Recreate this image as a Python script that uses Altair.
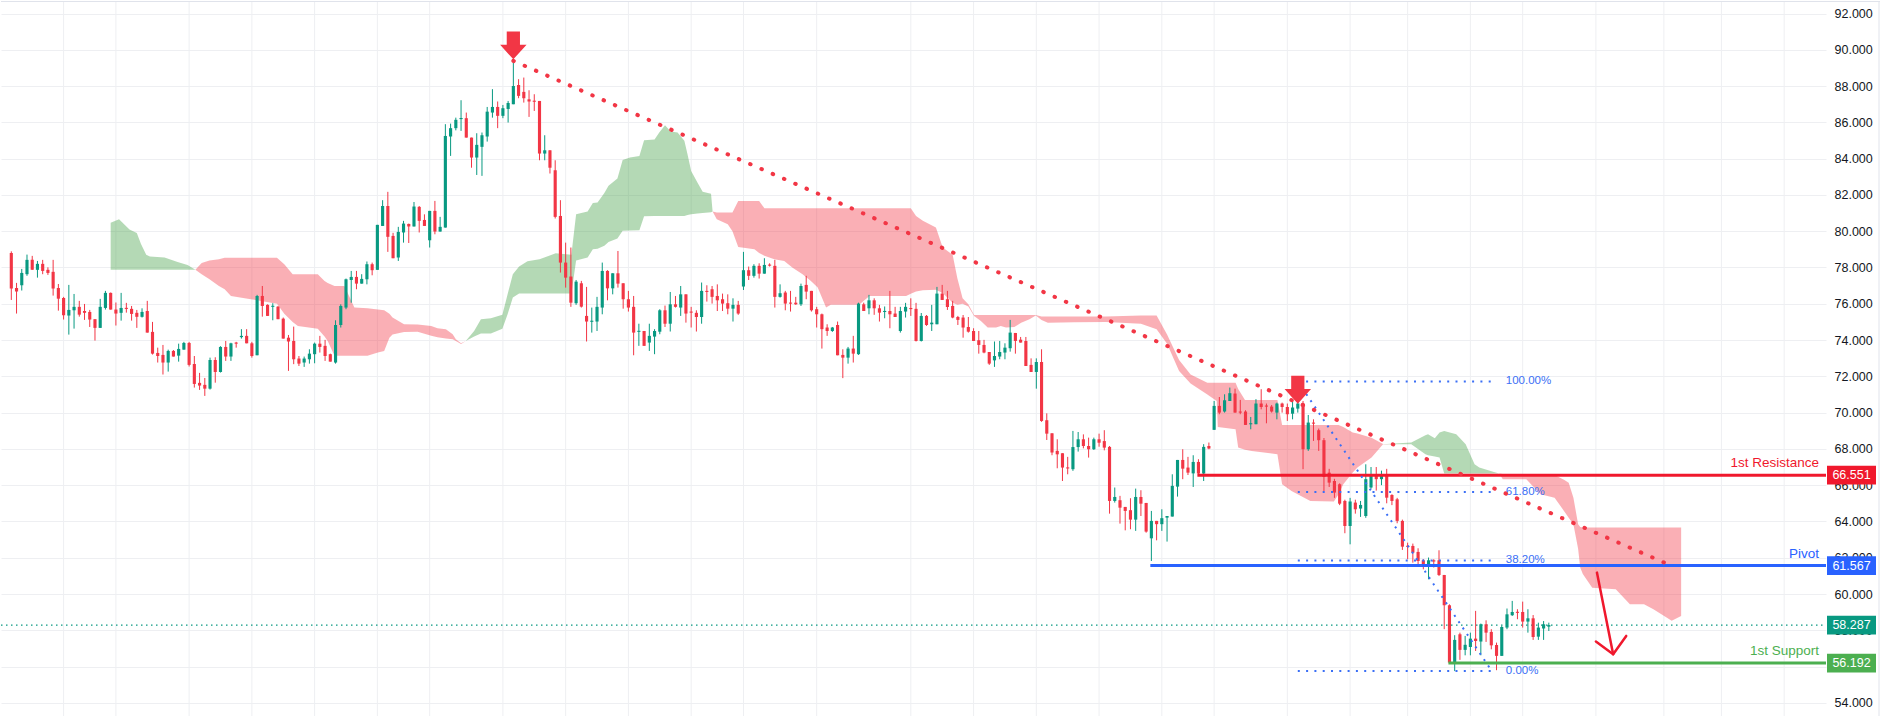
import altair as alt
import numpy as np
import pandas as pd

# ---------------- candles ----------------
opens = [
    78.80, 76.87, 77.02, 77.63, 78.42, 77.87, 78.20, 77.87, 77.76, 76.87,
    76.32, 75.35, 75.64, 75.83, 75.60, 75.55, 75.15, 74.67, 75.77, 76.60,
    75.68, 75.50, 75.77, 75.72, 75.50, 75.28, 75.60, 74.45, 73.29, 73.18,
    72.76, 73.40, 73.14, 73.47, 73.84, 72.68, 71.64, 71.53, 71.32, 72.90,
    72.24, 73.62, 73.09, 73.86, 74.16, 74.23, 73.82, 73.16, 76.43, 75.94,
    75.84, 75.84, 75.18, 74.13, 73.95, 72.98, 72.76, 72.94, 73.22, 73.80,
    73.68, 73.22, 72.76, 74.83, 75.79, 77.31, 77.48, 77.11, 77.35, 78.18,
    77.87, 80.29, 81.39, 79.74, 78.55, 79.93, 80.40, 80.26, 81.34, 80.62,
    79.50, 81.12, 79.98, 80.20, 85.22, 85.68, 86.19, 86.23, 85.16, 84.06,
    84.65, 85.22, 86.54, 86.85, 86.36, 86.74, 87.00, 88.06, 87.68, 87.27,
    87.18, 87.18, 84.28, 84.46, 83.36, 80.84, 78.27, 77.50, 76.03, 77.13,
    75.33, 75.02, 75.02, 75.79, 77.81, 76.85, 77.68, 77.13, 76.25, 75.83,
    74.46, 74.50, 73.86, 74.19, 74.46, 75.64, 74.90, 75.97, 75.79, 76.52,
    75.57, 75.50, 75.27, 76.71, 76.80, 76.43, 76.25, 76.03, 75.73, 75.94,
    76.95, 77.85, 77.54, 78.09, 77.66, 78.14, 78.09, 76.38, 76.62, 76.06,
    76.06, 75.97, 77.04, 76.71, 75.70, 75.42, 74.69, 74.50, 74.83, 73.18,
    73.03, 73.53, 73.22, 75.97, 75.75, 76.19, 75.75, 75.55, 75.60, 75.46,
    74.50, 75.57, 75.75, 75.72, 73.95, 75.33, 74.87, 74.87, 76.56, 76.25,
    75.88, 75.27, 75.24, 74.72, 74.50, 73.99, 73.73, 73.34, 72.88, 73.09,
    73.31, 73.55, 74.39, 74.02, 73.95, 72.63, 72.24, 72.79, 69.58, 68.86,
    67.89, 67.76, 66.97, 66.88, 68.10, 68.53, 68.16, 67.98, 68.53, 68.43,
    68.11, 65.13, 65.17, 64.80, 64.62, 64.10, 65.35, 65.02, 63.07, 64.03,
    63.85, 64.21, 64.27, 65.92, 67.39, 66.97, 66.65, 67.28, 66.64, 68.16,
    69.05, 70.37, 70.06, 70.64, 71.05, 70.06, 70.06, 69.36, 69.36, 70.50,
    70.39, 70.33, 70.00, 70.50, 70.31, 69.94, 70.22, 70.50, 67.98, 69.45,
    69.03, 68.48, 66.69, 66.23, 66.05, 65.13, 63.75, 65.04, 64.71, 64.30,
    65.87, 66.60, 66.33, 66.51, 65.46, 65.22, 64.03, 62.65, 62.65, 62.32,
    61.86, 61.60, 61.86, 61.86, 61.05, 59.38, 56.22, 57.78, 56.92, 57.08,
    57.54, 57.38, 58.33, 57.91, 57.19, 56.59, 58.15, 58.83, 59.01, 59.01,
    58.48, 58.66, 57.65, 58.10, 58.20,
]
highs = [
    78.89, 77.15, 77.92, 78.71, 78.64, 78.36, 78.42, 78.01, 78.42, 77.09,
    76.38, 77.04, 76.54, 76.16, 75.99, 75.66, 75.15, 76.27, 76.71, 76.62,
    76.07, 76.60, 76.05, 75.88, 75.66, 75.75, 76.16, 75.00, 73.58, 73.73,
    73.47, 73.45, 73.80, 73.90, 73.90, 73.12, 72.19, 71.91, 73.03, 73.05,
    73.66, 73.95, 73.85, 73.90, 74.60, 74.60, 73.90, 76.49, 76.98, 75.97,
    76.03, 75.88, 75.24, 74.28, 74.74, 73.12, 73.09, 73.49, 73.86, 74.23,
    74.01, 73.25, 75.09, 75.97, 77.39, 77.81, 77.81, 77.63, 78.33, 78.27,
    80.35, 81.71, 82.17, 79.91, 80.24, 80.57, 80.42, 81.61, 81.39, 80.93,
    81.12, 81.67, 80.79, 85.90, 85.93, 86.26, 87.22, 86.54, 85.16, 85.40,
    85.44, 86.85, 87.83, 87.15, 86.96, 87.18, 89.39, 88.38, 88.47, 87.77,
    87.55, 87.18, 85.29, 84.46, 83.91, 81.71, 79.37, 79.10, 77.31, 77.26,
    76.93, 75.79, 76.38, 78.27, 77.85, 77.68, 78.91, 77.13, 76.71, 76.43,
    74.90, 74.50, 74.90, 74.60, 75.70, 75.90, 76.65, 76.43, 76.98, 76.52,
    75.83, 75.64, 77.17, 77.02, 76.98, 77.07, 76.56, 76.52, 76.30, 76.16,
    78.86, 78.05, 78.18, 78.23, 78.51, 78.23, 78.42, 77.07, 76.71, 76.71,
    76.38, 77.11, 77.54, 76.71, 75.83, 75.46, 74.87, 74.72, 75.02, 73.49,
    73.62, 74.23, 76.06, 76.06, 76.49, 76.30, 75.94, 75.85, 76.71, 75.83,
    75.83, 76.05, 76.30, 76.05, 75.49, 75.38, 75.94, 76.93, 77.04, 76.71,
    76.16, 75.33, 75.38, 75.27, 74.65, 74.50, 74.01, 73.34, 73.92, 73.95,
    73.82, 75.11, 74.39, 74.17, 74.17, 72.99, 72.99, 73.49, 69.96, 68.86,
    68.53, 67.76, 67.56, 68.99, 68.93, 68.80, 68.62, 68.62, 68.84, 69.03,
    68.16, 65.87, 65.41, 64.80, 65.28, 65.81, 65.72, 65.02, 64.58, 64.03,
    64.67, 64.30, 66.60, 67.39, 67.98, 67.56, 67.65, 67.43, 68.26, 68.35,
    70.64, 70.86, 71.01, 71.38, 71.32, 70.70, 70.13, 69.76, 70.74, 71.29,
    70.50, 70.42, 70.55, 70.55, 70.50, 70.64, 71.72, 70.64, 69.87, 69.63,
    69.12, 68.60, 66.90, 66.35, 66.10, 65.20, 65.30, 65.20, 65.13, 67.15,
    67.00, 67.00, 66.80, 66.90, 65.50, 65.30, 64.10, 62.83, 62.78, 62.52,
    61.92, 62.01, 61.92, 62.41, 61.05, 59.43, 57.73, 57.87, 57.69, 57.87,
    59.07, 58.37, 58.55, 58.06, 57.32, 58.24, 59.20, 59.62, 59.16, 59.58,
    59.16, 58.84, 58.42, 58.51, 58.42,
]
lows = [
    76.21, 75.46, 76.73, 77.54, 77.87, 77.44, 77.63, 77.59, 76.45, 75.62,
    75.13, 74.30, 74.63, 75.29, 75.11, 74.72, 73.97, 74.67, 75.68, 75.68,
    74.80, 75.07, 75.51, 75.07, 74.67, 75.24, 74.41, 73.20, 72.76, 72.10,
    72.26, 73.09, 72.81, 73.47, 72.54, 71.38, 71.25, 70.92, 71.27, 71.65,
    72.21, 72.85, 72.85, 73.58, 74.08, 73.82, 73.03, 73.16, 75.29, 75.33,
    75.09, 75.15, 74.08, 72.30, 72.67, 72.57, 72.52, 72.70, 72.72, 73.31,
    72.85, 72.81, 72.70, 74.69, 75.70, 76.06, 76.80, 77.11, 77.07, 77.57,
    77.87, 80.29, 78.86, 78.51, 78.36, 79.37, 79.35, 80.26, 79.93, 80.29,
    79.10, 79.83, 79.98, 80.20, 84.15, 85.56, 85.53, 85.16, 83.50, 83.10,
    83.05, 84.94, 86.26, 85.68, 86.23, 85.99, 87.00, 87.33, 87.09, 86.30,
    86.63, 83.91, 83.91, 83.18, 80.70, 77.72, 76.89, 75.83, 75.94, 75.79,
    73.92, 74.41, 74.50, 75.42, 76.19, 76.52, 76.89, 75.73, 75.57, 73.16,
    73.68, 73.68, 73.40, 73.22, 74.32, 74.72, 74.47, 75.79, 75.33, 74.96,
    74.69, 74.47, 74.90, 76.12, 76.01, 75.60, 75.60, 75.42, 75.02, 75.39,
    76.76, 77.31, 77.44, 77.39, 77.66, 78.05, 75.79, 76.34, 75.64, 75.57,
    75.94, 75.88, 76.25, 75.57, 74.69, 73.53, 74.23, 74.45, 73.16, 71.90,
    72.70, 72.76, 73.18, 75.60, 75.42, 75.39, 75.02, 75.20, 74.65, 75.27,
    74.41, 75.24, 75.33, 73.92, 73.92, 74.78, 74.50, 74.87, 76.21, 75.66,
    75.20, 74.83, 74.13, 74.41, 73.95, 73.25, 73.27, 72.63, 72.52, 72.94,
    72.94, 73.36, 73.25, 73.86, 72.57, 72.24, 71.32, 69.49, 68.49, 67.65,
    66.93, 66.23, 66.60, 66.79, 67.85, 68.03, 67.52, 67.94, 68.12, 67.92,
    64.43, 65.04, 63.88, 63.51, 63.57, 63.48, 64.30, 63.38, 61.82, 62.96,
    63.48, 62.89, 64.27, 65.37, 66.33, 66.56, 65.90, 66.51, 66.23, 67.98,
    69.05, 69.91, 70.00, 70.64, 70.00, 69.91, 69.32, 69.08, 69.36, 70.18,
    69.41, 70.00, 69.63, 70.00, 69.54, 69.63, 70.00, 66.88, 67.89, 68.44,
    67.89, 65.68, 65.90, 65.30, 64.90, 63.35, 62.74, 64.43, 64.25, 64.20,
    65.80, 65.70, 66.00, 65.00, 64.90, 63.90, 62.43, 61.92, 61.73, 61.64,
    61.36, 60.81, 61.46, 60.99, 58.06, 56.22, 55.75, 56.37, 56.62, 56.62,
    56.86, 56.62, 57.36, 56.95, 55.80, 56.59, 58.06, 58.79, 58.61, 58.15,
    57.87, 57.47, 57.47, 57.47, 57.96,
]
closes = [
    76.84, 76.67, 77.70, 78.42, 77.87, 78.20, 77.81, 77.70, 76.84, 76.28,
    75.37, 75.66, 75.83, 75.40, 75.50, 75.13, 74.67, 75.83, 76.60, 75.68,
    75.46, 75.77, 75.72, 75.44, 75.28, 75.55, 74.41, 73.25, 73.12, 72.76,
    73.40, 73.09, 73.51, 73.84, 72.63, 71.58, 71.49, 71.32, 72.90, 72.24,
    73.62, 73.09, 73.82, 73.80, 74.23, 73.82, 73.12, 76.43, 75.88, 75.33,
    75.88, 75.15, 74.08, 73.92, 72.94, 72.70, 72.98, 73.25, 73.80, 73.62,
    73.12, 72.81, 74.83, 75.88, 77.35, 77.48, 77.11, 77.37, 78.18, 77.85,
    80.35, 81.39, 79.69, 78.51, 79.96, 80.42, 80.26, 81.36, 80.57, 80.29,
    81.12, 79.98, 80.24, 85.25, 85.68, 86.14, 86.23, 85.16, 84.06, 84.76,
    85.29, 86.59, 86.85, 86.36, 86.78, 87.07, 88.01, 87.46, 87.33, 87.15,
    87.15, 84.28, 84.46, 83.50, 80.79, 78.27, 77.44, 76.06, 77.22, 75.84,
    75.02, 75.05, 75.83, 77.81, 76.85, 77.68, 77.11, 76.25, 75.79, 74.41,
    74.50, 73.68, 74.23, 74.50, 75.64, 74.90, 75.97, 75.83, 76.52, 75.46,
    75.51, 75.27, 76.71, 76.65, 76.38, 76.19, 76.01, 75.73, 75.94, 75.46,
    77.85, 77.54, 78.09, 77.66, 78.14, 78.12, 76.38, 76.58, 76.01, 76.01,
    75.97, 76.98, 76.67, 75.64, 75.42, 74.60, 74.50, 74.69, 73.16, 73.03,
    73.53, 73.25, 76.01, 75.60, 76.19, 75.75, 75.51, 75.60, 75.42, 75.27,
    75.60, 75.83, 75.72, 73.95, 75.33, 74.83, 74.96, 76.56, 76.21, 75.82,
    75.24, 75.11, 74.69, 74.46, 73.95, 73.73, 73.31, 72.70, 73.12, 73.34,
    73.58, 74.41, 73.95, 73.86, 72.57, 72.24, 72.79, 69.54, 68.84, 67.80,
    67.70, 66.97, 66.93, 68.10, 68.53, 68.16, 67.98, 68.53, 68.34, 68.07,
    65.13, 65.35, 64.76, 64.58, 64.10, 65.35, 64.98, 63.44, 64.03, 63.85,
    64.18, 64.30, 65.96, 67.39, 66.91, 66.69, 67.28, 66.64, 68.11, 68.02,
    70.37, 70.00, 70.68, 71.07, 70.00, 70.00, 69.32, 69.41, 70.50, 70.31,
    70.33, 70.06, 70.50, 70.31, 69.91, 70.28, 70.50, 67.98, 69.45, 69.39,
    68.48, 66.45, 66.14, 65.59, 64.98, 63.75, 65.10, 64.67, 64.91, 66.33,
    66.51, 66.33, 66.51, 65.31, 65.13, 64.03, 62.61, 62.61, 62.28, 61.82,
    61.55, 61.86, 61.79, 61.05, 59.38, 56.22, 57.47, 56.92, 57.20, 57.54,
    57.41, 58.33, 57.87, 57.17, 56.59, 58.18, 58.88, 59.01, 58.97, 58.48,
    58.66, 57.63, 58.15, 58.33, 58.287,
]

# ---------------- Ichimoku cloud vertices (bar index, span A, span B) ----------------
cloud_x = [
    19.0, 20.6, 22.6, 24.0, 24.8, 25.8, 26.5, 29.3, 31.8, 33.7, 35.2,
    36.4, 37.9, 39.7, 40.8, 42.0, 45.8, 49.7, 50.8, 52.2, 53.8, 54.8, 58.6, 59.9, 60.5, 61.8,
    63.7, 65.6, 68.1, 70.1, 71.3, 72.3, 72.9, 75.1, 77.7, 80.3, 81.5, 83.1, 84.4, 85.0, 86.0, 86.9,
    88.5, 89.8, 91.7, 93.9, 94.9, 95.9, 97.1, 98.7, 101.0, 104.1, 107.1, 108.0, 110.2, 111.2,
    112.1, 113.4, 114.2, 115.9, 116.9, 118.3, 120.1, 121.0, 123.0, 123.9, 125.0, 126.1, 127.4,
    128.7, 129.3, 130.0, 131.2, 132.2, 133.8, 134.1,
    134.9, 137.0, 137.9, 139.0, 142.1, 143.0, 144.0, 145.9, 147.8, 149.4,
    151.3, 152.9, 154.2, 155.8, 156.7, 162.1, 164.1, 171.1, 172.0, 173.0,
    174.3, 176.8, 178.1, 180.0, 180.9, 181.9, 183.0, 184.1, 185.4, 186.7,
    188.3, 189.2, 190.2, 191.8, 193.1, 194.7, 195.9, 197.0, 198.2, 203.3,
    209.3, 216.0, 219.0, 221.0, 223.3, 225.5, 228.7, 230.5, 230.7, 234.1,
    234.6, 235.9, 237.2, 242.1, 243.0, 244.8, 248.4, 252.9, 253.8, 254.7,
    256.5, 257.4, 260.1, 262.3,
    264.5, 267.7, 270.4, 270.9, 272.2, 273.1, 274.0, 276.3, 278.1, 279.8, 280.7, 283.5, 284.5,
    285.2, 289.7, 292.4, 295.1, 296.9, 297.8, 298.7, 299.6, 300.0, 300.5, 302.3, 306.8,
    309.5, 312.2, 314.0, 317.5, 319.3,
]
span_a = [
    80.47, 80.66, 80.10, 79.90, 79.30, 78.70, 78.60, 78.55, 78.30, 78.14, 77.87,
    77.63, 77.35, 76.98, 76.80, 76.43, 76.25, 76.06, 76.00, 75.45, 75.00, 74.78, 74.62, 74.20, 73.95, 73.13,
    73.13, 73.13, 73.13, 73.31, 73.40, 74.13, 74.30, 74.45, 74.46, 74.23, 74.15, 74.08, 74.04, 73.95, 73.78, 73.95,
    74.50, 75.15, 75.20, 75.39, 76.52, 77.63, 78.05, 78.35, 78.45, 78.78, 78.70, 80.93, 81.08, 81.56,
    81.58, 82.10, 82.50, 82.90, 83.92, 84.06, 84.15, 85.02, 85.05, 85.44, 85.84, 85.49, 85.44,
    84.98, 84.24, 83.32, 82.68, 82.17, 82.07, 81.08,
    80.66, 80.38, 80.00, 79.13, 79.00, 78.80, 78.65, 78.45, 78.36, 77.99,
    77.63, 77.26, 76.89, 75.79, 75.94, 75.94, 76.43, 76.43, 76.55, 76.68,
    76.74, 76.77, 76.60, 76.06, 75.95, 76.00, 75.85, 75.33, 75.05, 74.69,
    74.69, 74.78, 74.69, 74.72, 74.96, 75.14, 75.35, 75.10, 74.96, 74.98,
    74.99, 74.90, 74.60, 73.80, 72.30, 71.60, 71.00, 70.64, 69.20, 69.08,
    68.07, 67.95, 67.89, 67.70, 66.05, 65.68, 65.13, 65.10, 65.50, 66.05,
    66.70, 66.97, 67.52, 68.26,
    68.30, 68.35, 68.75, 68.81, 68.59, 68.90, 68.99, 68.81, 68.26, 67.15, 66.97, 66.72, 66.64,
    66.33, 66.33, 65.50, 65.31, 64.58, 64.20, 63.84, 62.50, 61.46, 61.10, 60.35, 60.26,
    59.44, 59.44, 59.16, 58.52, 58.79,
]
span_b = [
    77.87, 77.87, 77.87, 77.87, 77.87, 77.87, 77.87, 77.87, 77.87, 77.87, 77.87,
    78.25, 78.38, 78.45, 78.53, 78.53, 78.53, 78.53, 78.53, 78.18, 77.63, 77.63, 77.63, 77.26, 77.15, 76.98,
    76.98, 75.79, 75.75, 75.68, 75.64, 75.45, 75.24, 74.87, 74.85, 74.78, 74.65, 74.60, 74.32, 74.05, 73.82, 73.95,
    74.20, 74.36, 74.36, 74.62, 75.42, 76.34, 76.56, 76.56, 76.56, 76.56, 76.56, 78.38, 78.55, 79.00,
    79.03, 79.20, 79.40, 79.60, 80.02, 80.04, 80.05, 80.82, 80.84, 80.84, 80.84, 80.84, 80.84,
    80.84, 80.90, 80.93, 80.98, 81.00, 81.05, 81.08,
    81.03, 81.03, 81.03, 81.67, 81.67, 81.67, 81.27, 81.27, 81.27, 81.27,
    81.27, 81.27, 81.27, 81.27, 81.27, 81.27, 81.27, 81.27, 81.27, 80.84,
    80.57, 80.20, 79.10, 78.70, 77.40, 76.30, 75.97, 75.38, 75.38, 75.38,
    75.38, 75.38, 75.38, 75.38, 75.38, 75.38, 75.38, 75.30, 75.30, 75.30,
    75.30, 75.35, 75.35, 74.30, 72.90, 72.10, 71.65, 71.65, 71.65, 71.65,
    71.30, 70.70, 70.70, 70.70, 69.32, 69.32, 69.32, 69.32, 69.32, 69.20,
    68.90, 68.85, 68.62, 68.27,
    68.26, 68.26, 67.70, 67.65, 67.58, 67.52, 66.64, 66.64, 66.64, 66.64, 66.64, 66.64, 66.64,
    66.62, 66.60, 66.58, 66.56, 66.30, 66.14, 65.31, 63.84, 63.70, 63.66, 63.66, 63.66,
    63.66, 63.66, 63.66, 63.66, 63.66,
]

# ---------------- annotations ----------------
grid_x = [10, 20, 34, 46, 58, 70, 80, 94, 106, 118, 130, 140, 154, 172, 184, 196, 208,
          220, 230, 244, 256, 267, 279, 289, 303, 316, 327, 339]
y_ticks = list(range(54, 93, 2))

level_names = ["1st Resistance", "Pivot", "1st Support"]
level_values = [66.551, 61.567, 56.192]
level_start = [226.8, 217.8, 274.8]
last_price = 58.287

fib_ratios = [1.0, 0.618, 0.382, 0.0]
fib_labels = ["100.00%", "61.80%", "38.20%", "0.00%"]
fib_start, fib_end = 246, 283.1
fib_high, fib_low = 71.72, 55.75

trend_x = [96, 316]
trend_y = [89.39, 61.74]

marker_x = [96, 246]
marker_y = [90.24, 71.26]

big_arrow_x = [303.2, 306.3, 303.0, 306.3, 308.8]
big_arrow_y = [61.18, 56.68, 57.38, 56.68, 57.69]
big_arrow_seg = [0, 0, 1, 1, 1]

# ---------------- styles ----------------
W, H = 1825, 716
X_DOMAIN = [-1.97, 347.0]
Y_DOMAIN = [53.22, 92.69]
UP = "#089981"
DOWN = "#f23645"
RES = "#f0182d"
PIV = "#2962ff"
SUP = "#4caf50"
TEAL = "#089981"
FIB = "#3b6ff5"
GRID = "#eeeff2"
BORDER = "#e0e3eb"
FONT = "Liberation Sans"
ARROW = "M-0.5,-1.05L0.5,-1.05L0.5,-0.05L1,-0.05L0,1.05L-1,-0.05L-0.5,-0.05Z"

XS = alt.Scale(domain=X_DOMAIN, nice=False, zero=False)
YS = alt.Scale(domain=Y_DOMAIN, nice=False, zero=False)
Y_AXIS = alt.Axis(orient="right", values=y_ticks, format=".3f", grid=True,
                  gridColor=GRID, gridWidth=1, domain=False, ticks=False,
                  labelPadding=8, labelFont=FONT, labelFontSize=12.5,
                  labelColor="#131722", title=None)


def X(f):
    return alt.X(f, type="quantitative", scale=XS, axis=None)


def Y(f):
    return alt.Y(f, type="quantitative", scale=YS, axis=Y_AXIS)


# ---------------- frames ----------------
n = len(closes)
cdf = pd.DataFrame({"i": np.arange(n), "o": opens, "h": highs, "l": lows, "c": closes})
cdf["h"] = cdf[["h", "o", "c"]].max(axis=1)
cdf["l"] = cdf[["l", "o", "c"]].min(axis=1)
top = cdf[["o", "c"]].max(axis=1)
bot = cdf[["o", "c"]].min(axis=1)
mid = (top + bot) / 2
thin = (top - bot) < 0.06
cdf["top"] = np.where(thin, mid + 0.03, top)
cdf["bot"] = np.where(thin, mid - 0.03, bot)
cdf["xl"] = cdf["i"] - 0.3
cdf["xr"] = cdf["i"] + 0.3
cdf["up"] = cdf["c"] >= cdf["o"]
up_df = cdf[cdf["up"]]
dn_df = cdf[~cdf["up"]]

cloud = pd.DataFrame({"x": cloud_x, "a": span_a, "b": span_b})
cloud["lo"] = cloud[["a", "b"]].min(axis=1)

layers = []

layers.append(alt.Chart(pd.DataFrame({"g": grid_x})).mark_rule(
    color=GRID, strokeWidth=1).encode(x=X("g")))

layers.append(alt.Chart(cloud).mark_area(color="#43a047", opacity=0.4).encode(
    x=X("x"), y=Y("a"), y2="lo"))
layers.append(alt.Chart(cloud).mark_area(color="#f23645", opacity=0.4).encode(
    x=X("x"), y=Y("b"), y2="lo"))

layers.append(alt.Chart(pd.DataFrame({"v": [last_price]})).mark_rule(
    color=TEAL, strokeDash=[1.5, 3.5], strokeWidth=1.2).encode(
    x=alt.value(0), x2=alt.value(W), y=Y("v")))

for frame, col in ((up_df, UP), (dn_df, DOWN)):
    layers.append(alt.Chart(frame).mark_rule(color=col, strokeWidth=1).encode(
        x=X("i"), y=Y("l"), y2="h"))
    layers.append(alt.Chart(frame).mark_rect(color=col).encode(
        x=X("xl"), x2="xr", y=Y("top"), y2="bot"))

for name, v, s, col in zip(level_names, level_values, level_start, (RES, PIV, SUP)):
    ldf = pd.DataFrame({"v": [v], "s": [s], "name": [name]})
    layers.append(alt.Chart(ldf).mark_rule(color=col, strokeWidth=3).encode(
        x=X("s"), x2=alt.value(W), y=Y("v")))
    layers.append(alt.Chart(ldf).mark_text(
        color=col, align="right", baseline="alphabetic", dy=-8,
        fontSize=13.5, font=FONT).encode(x=alt.value(W - 7), y=Y("v"), text="name:N"))

fdf = pd.DataFrame({"r": fib_ratios, "label": fib_labels})
fdf["v"] = fib_low + fdf["r"] * (fib_high - fib_low)
fdf["x0"] = fib_start
fdf["x1"] = fib_end
layers.append(alt.Chart(fdf).mark_rule(color=FIB, strokeWidth=2, strokeDash=[2, 6.3]).encode(
    x=X("x0"), x2="x1", y=Y("v")))
layers.append(alt.Chart(fdf).mark_text(
    color=FIB, align="left", baseline="middle", dx=14, fontSize=11.5, font=FONT).encode(
    x=X("x1"), y=Y("v"), text="label:N"))
diag = pd.DataFrame({"x": [fib_start, fib_end], "v": [fib_high, fib_low]})
layers.append(alt.Chart(diag).mark_line(color=FIB, strokeWidth=2, strokeDash=[2, 5.6]).encode(
    x=X("x"), y=Y("v")))

tdf = pd.DataFrame({"x": trend_x, "v": trend_y})
layers.append(alt.Chart(tdf).mark_line(
    color=DOWN, strokeWidth=4, strokeDash=[0.5, 11.8], strokeCap="round").encode(
    x=X("x"), y=Y("v")))

mdf = pd.DataFrame({"x": marker_x, "v": marker_y})
layers.append(alt.Chart(mdf).mark_point(
    shape=ARROW, size=700, filled=True, color=DOWN, opacity=1, strokeWidth=0).encode(
    x=X("x"), y=Y("v")))

adf = pd.DataFrame({"x": big_arrow_x, "v": big_arrow_y, "seg": big_arrow_seg,
                    "k": np.arange(len(big_arrow_x))})
layers.append(alt.Chart(adf).mark_line(
    color=RES, strokeWidth=2.5, strokeCap="round", strokeJoin="round").encode(
    x=X("x"), y=Y("v"), detail="seg:N", order="k:Q"))

# price tags on the scale
tag_values = [level_values[0], level_values[1], last_price, level_values[2]]
tag_colors = [RES, PIV, TEAL, SUP]
for v, col in zip(tag_values, tag_colors):
    bdf = pd.DataFrame({"v": [v], "t": [v + 0.52], "b": [v - 0.52], "lab": [f"{v:.3f}"]})
    layers.append(alt.Chart(bdf).mark_rect(color=col).encode(
        x=alt.value(W + 1), x2=alt.value(W + 50), y=Y("t"), y2="b"))
    layers.append(alt.Chart(bdf).mark_text(
        color="white", align="center", baseline="middle", fontSize=12.5, font=FONT).encode(
        x=alt.value(W + 25.5), y=Y("v"), text="lab:N"))

one = pd.DataFrame({"z": [0]})
layers.append(alt.Chart(one).mark_rule(color=BORDER, strokeWidth=1).encode(
    x=alt.value(0), x2=alt.value(W + 54), y=alt.value(0.5)))
layers.append(alt.Chart(one).mark_rule(color=BORDER, strokeWidth=1).encode(
    x=alt.value(W + 53), y=alt.value(0), y2=alt.value(H)))

chart = alt.layer(*layers).properties(
    width=W, height=H, padding=0, background="white"
).configure_view(stroke=None)

chart.save("out.html", embed_options={"renderer": "svg", "actions": False})
